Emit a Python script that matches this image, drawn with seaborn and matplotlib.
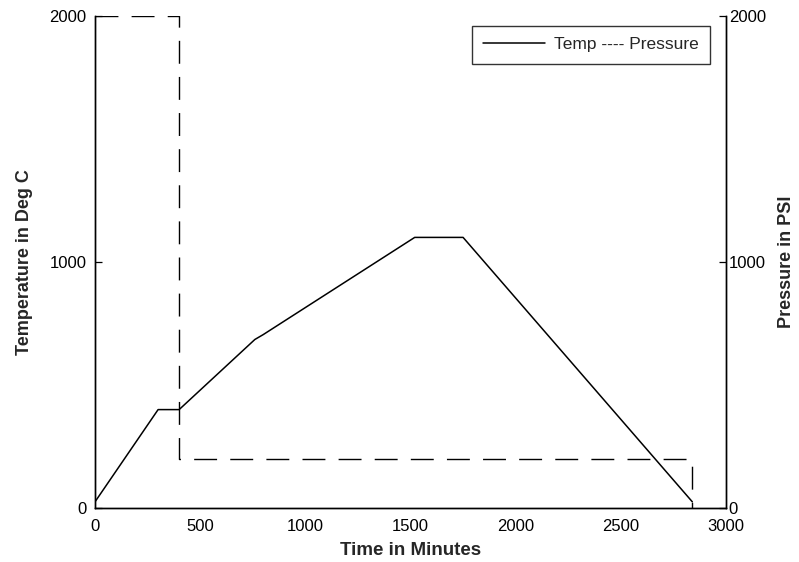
import matplotlib
matplotlib.use("Agg")
import matplotlib.pyplot as plt
import seaborn as sns
import pandas as pd
from matplotlib.lines import Line2D

# ---- data ----
temp_time = [0, 300, 400, 760, 800, 1520, 1750, 2840]
temp_vals = [25, 400, 400, 685, 705, 1100, 1100, 25]
press_time = [0, 400, 400, 2840, 2840]
press_vals = [2000, 2000, 200, 200, 0]
x_ticks = [0, 500, 1000, 1500, 2000, 2500, 3000]
y_ticks = [0, 1000, 2000]
legend_label = "Temp ---- Pressure"

sns.set_theme(style="white")
plt.rcParams['font.family'] = ['Liberation Sans', 'DejaVu Sans']
plt.rcParams['axes.edgecolor'] = 'black'
plt.rcParams['axes.linewidth'] = 1.0

fig = plt.figure(figsize=(7.99, 5.62), dpi=100)
ax = fig.add_axes([95/799, (562-508)/562, (726-95)/799, (508-16)/562])

df_t = pd.DataFrame({"t": temp_time, "v": temp_vals})
df_p = pd.DataFrame({"t": press_time, "v": press_vals})

sns.lineplot(data=df_t, x="t", y="v", ax=ax, color="black", linewidth=1.1,
             estimator=None, sort=False)
ax.set_xlim(0, 3000)
ax.set_ylim(0, 2000)
ax.set_xticks(x_ticks)
ax.set_yticks(y_ticks)
ax.tick_params(direction="in", length=5, width=0.9, labelsize=12, pad=6,
               colors="black")
ax.tick_params(axis="x", pad=8)
ax.spines["top"].set_visible(False)
ax.set_xlabel("Time in Minutes", fontsize=13.5, fontweight="bold", labelpad=6)
ax.set_ylabel("Temperature in Deg C", fontsize=13, fontweight="bold", labelpad=12)

ax2 = ax.twinx()
sns.lineplot(data=df_p, x="t", y="v", ax=ax2, color="black", linewidth=1.0,
             estimator=None, sort=False)
for ln in ax2.get_lines():
    ln.set_dashes([16.5, 9.5])
ax2.set_ylim(0, 2000)
ax2.set_yticks(y_ticks)
ax2.tick_params(direction="in", length=5, width=0.9, labelsize=12, pad=2,
                colors="black")
ax2.spines["top"].set_visible(False)
ax2.set_ylabel("Pressure in PSI", fontsize=13, fontweight="bold", labelpad=9)
ax2.set_xlabel("")

handle = Line2D([], [], color="black", linewidth=1.1)
leg = ax2.legend([handle], [legend_label], loc="upper right",
                 bbox_to_anchor=((710-95)/631, (508-26)/492),
                 borderaxespad=0, fontsize=12.5, handlelength=3.6,
                 handletextpad=0.5, borderpad=0.65, frameon=True, fancybox=False)
leg.get_frame().set_edgecolor("black")
leg.get_frame().set_linewidth(1.0)

fig.savefig("out.png", dpi=100)
